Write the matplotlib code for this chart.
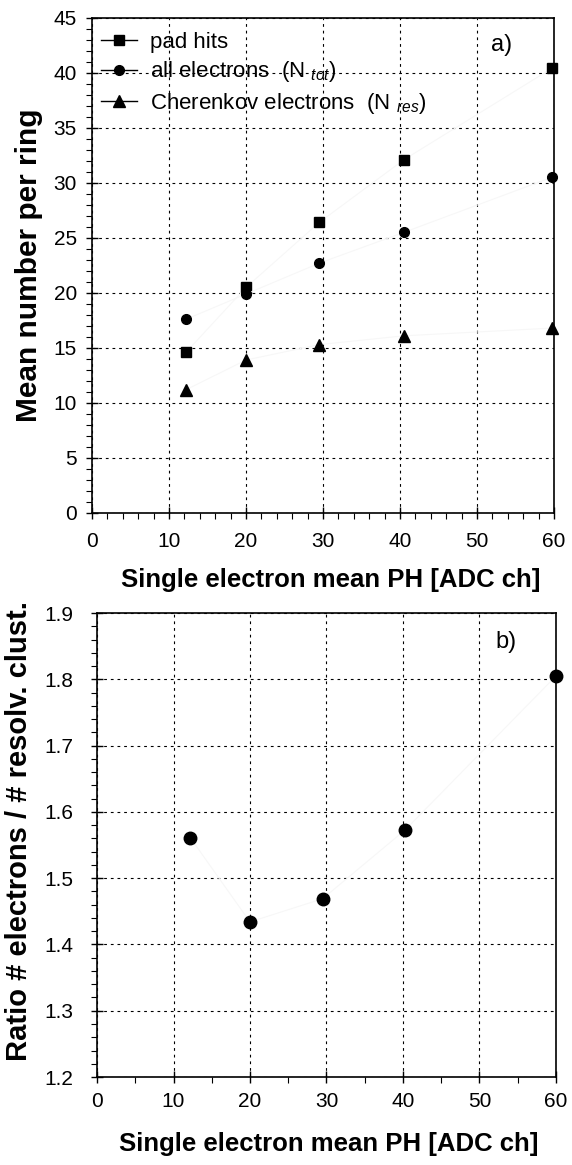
import numpy as np
import matplotlib
matplotlib.use("Agg")
import matplotlib.pyplot as plt
from matplotlib.lines import Line2D
from matplotlib.ticker import MultipleLocator

plt.rcParams['font.family'] = ['Liberation Sans', 'DejaVu Sans']
plt.rcParams['mathtext.fontset'] = 'custom'
plt.rcParams['mathtext.rm'] = 'Liberation Sans'
plt.rcParams['mathtext.it'] = 'Liberation Sans:italic'

# --- data ---
ph = [12.2, 20.0, 29.5, 40.5, 59.7]
pad_hits = [14.6, 20.5, 26.4, 32.1, 40.4]
all_electrons = [17.6, 19.9, 22.7, 25.5, 30.5]
cherenkov = [11.2, 13.9, 15.3, 16.1, 16.8]

ph_ratio = [12.2, 20.0, 29.5, 40.3, 60.0]
ratio = [1.561, 1.434, 1.469, 1.573, 1.805]

xlabel = 'Single electron mean PH [ADC ch]'

fig = plt.figure(figsize=(5.72, 11.65), dpi=100)
ax1 = fig.add_axes([0.161, 0.5597, 0.8075, 0.425])
ax2 = fig.add_axes([0.1696, 0.0755, 0.8024, 0.3983])

grid_kw = dict(color='black', lw=0.8, linestyle=(0, (2.5, 3.5)))
faint = '#f7f7f7'


def style_axes(ax, xminor, yminor):
    ax.xaxis.set_minor_locator(MultipleLocator(xminor))
    ax.yaxis.set_minor_locator(MultipleLocator(yminor))
    ax.tick_params(which='major', direction='inout', length=8, width=1,
                   labelsize=15)
    ax.tick_params(which='minor', direction='out', length=4, width=0.8)
    ax.tick_params(top=False, right=False)
    for s in ax.spines.values():
        s.set_linewidth(1.2)
    ax.grid(True, which='major', **grid_kw)
    ax.set_axisbelow(True)


# top panel
ax1.plot(ph, pad_hits, color=faint, lw=0.8, marker='s', ms=7.5,
         mfc='black', mec='black', clip_on=False, zorder=3)
ax1.plot(ph, all_electrons, color=faint, lw=0.8, marker='o', ms=7,
         mfc='black', mec='black', clip_on=False, zorder=3)
ax1.plot(ph, cherenkov, color=faint, lw=0.8, marker='^', ms=8.5,
         mfc='black', mec='black', clip_on=False, zorder=3)
ax1.set_xlim(0, 60)
ax1.set_ylim(0, 45)
ax1.xaxis.set_major_locator(MultipleLocator(10))
ax1.yaxis.set_major_locator(MultipleLocator(5))
style_axes(ax1, 2, 1)
ax1.tick_params(axis='x', pad=10)
ax1.tick_params(axis='y', pad=7)
ax1.set_xlabel(xlabel, fontsize=18.5, fontweight='bold')
ax1.xaxis.set_label_coords(0.517, -0.112)
ax1.set_ylabel('Mean number per ring', fontsize=21.5, fontweight='bold')
ax1.yaxis.set_label_coords(-0.106, 0.5)

handles = [
    Line2D([], [], color='black', lw=1, marker='s', ms=7.5),
    Line2D([], [], color='black', lw=1, marker='o', ms=7),
    Line2D([], [], color='black', lw=1, marker='^', ms=8.5),
]
labels = ['pad hits', r'all electrons  (N $_{tot}$)',
          r'Cherenkov electrons  (N $_{res}$)']
ax1.legend(handles, labels, loc='upper left', frameon=False, fontsize=16,
           handlelength=1.6, handletextpad=0.6, labelspacing=0.3,
           borderaxespad=0.1, borderpad=0.3,
           bbox_to_anchor=(0.0, 0.99))
ax1.text(0.887, 0.945, 'a)', transform=ax1.transAxes, fontsize=17,
         ha='center', va='center')

# bottom panel
ax2.plot(ph_ratio, ratio, color=faint, lw=0.8, marker='o', ms=9,
         mfc='black', mec='black', clip_on=False, zorder=3)
ax2.set_xlim(0, 60)
ax2.set_ylim(1.2, 1.9)
ax2.xaxis.set_major_locator(MultipleLocator(10))
ax2.yaxis.set_major_locator(MultipleLocator(0.1))
style_axes(ax2, 5, 0.02)
ax2.tick_params(axis='x', pad=7)
ax2.tick_params(axis='y', pad=13)
ax2.set_xlabel(xlabel, fontsize=18.5, fontweight='bold')
ax2.xaxis.set_label_coords(0.505, -0.118)
ax2.set_ylabel('Ratio # electrons / # resolv. clust.', fontsize=21,
               fontweight='bold')
ax2.yaxis.set_label_coords(-0.139, 0.53)
ax2.text(0.891, 0.9375, 'b)', transform=ax2.transAxes, fontsize=17,
         ha='center', va='center')

fig.savefig('out.png', dpi=100)
